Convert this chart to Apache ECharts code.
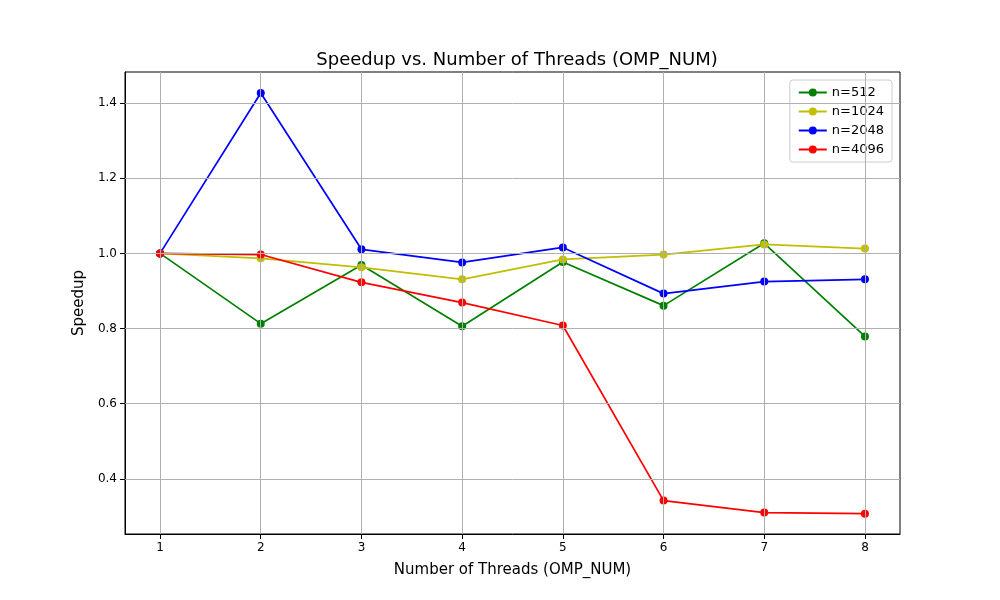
<!DOCTYPE html>
<html><head><meta charset="utf-8">
<script src="https://cdn.jsdelivr.net/npm/echarts@6/dist/echarts.min.js"></script>
<style>body{margin:0}#c{width:1000px;height:600px}</style></head>
<body><div id="c"></div>
<script>
var threads = [1, 2, 3, 4, 5, 6, 7, 8];
var n512 = [1.0, 0.813, 0.969, 0.806, 0.977, 0.861, 1.027, 0.779];
var n1024 = [1.0, 0.987, 0.963, 0.931, 0.984, 0.997, 1.024, 1.013];
var n2048 = [1.0, 1.427, 1.011, 0.976, 1.016, 0.893, 0.925, 0.931];
var n4096 = [1.0, 0.997, 0.923, 0.869, 0.808, 0.342, 0.310, 0.307];
var yTicks = [0.4, 0.6, 0.8, 1.0, 1.2, 1.4];
var names = ["n=512", "n=1024", "n=2048", "n=4096"];
var colors = ["#008000", "#bfbf00", "#0000ff", "#ff0000"];

var chart = echarts.init(document.getElementById("c"));
var gridStyle = { color: "#b0b0b0", width: 1, type: "solid" };

function mk(name, vals, i) {
  return {
    name: name, type: "line", data: threads.map(function (t, k) { return [t, vals[k]]; }),
    symbol: "circle", symbolSize: 8, color: colors[i],
    lineStyle: { width: 1.7 }, z: 3
  };
}
var series = [n512, n1024, n2048, n4096].map(function (v, i) { return mk(names[i], v, i); });
// grid lines
series.push({
  type: "line", data: [], silent: true, z: 1,
  markLine: {
    silent: true, symbol: "none", label: { show: false }, lineStyle: gridStyle, animation: false,
    data: threads.map(function (t) { return { xAxis: t }; }).concat(yTicks.map(function (y) { return { yAxis: y }; }))
  }
});

chart.setOption({
  animation: false,
  title: { text: "Speedup vs. Number of Threads (OMP_NUM)", left: 512, top: 46, textAlign: "center",
    textStyle: { fontFamily: "DejaVu Sans", fontSize: 18, fontWeight: "normal", color: "#000" } },
  legend: { data: names, orient: "vertical", right: 108, top: 80, itemWidth: 28, itemHeight: 10, itemGap: 6,
    backgroundColor: "#fff", borderColor: "#ccc", borderWidth: 1, borderRadius: 3, padding: [6, 8],
    textStyle: { fontFamily: "DejaVu Sans", fontSize: 13, color: "#000" } },
  grid: { left: 125, right: 100, top: 72, bottom: 66 },
  xAxis: {
    type: "value", min: 0.652, max: 8.348,
    name: "Number of Threads (OMP_NUM)", nameLocation: "middle", nameGap: 29,
    nameTextStyle: { fontFamily: "DejaVu Sans", fontSize: 15, color: "#000" },
    axisLine: { lineStyle: { color: "#000" } },
    axisTick: { show: true, customValues: threads, lineStyle: { color: "#000" } },
    axisLabel: { customValues: threads, color: "#000", fontFamily: "DejaVu Sans", fontSize: 12 },
    splitLine: { show: false }
  },
  yAxis: {
    type: "value", min: 0.253, max: 1.483,
    name: "Speedup", nameLocation: "middle", nameGap: 38,
    nameTextStyle: { fontFamily: "DejaVu Sans", fontSize: 15, color: "#000" },
    axisLine: { show: true, lineStyle: { color: "#000" } },
    axisTick: { show: true, customValues: yTicks, lineStyle: { color: "#000" } },
    axisLabel: { customValues: yTicks, color: "#000", fontFamily: "DejaVu Sans", fontSize: 12,
      formatter: function (v) { return v.toFixed(1); } },
    splitLine: { show: false }
  },
  series: series
});
// frame on top/right
chart.setOption({ graphic: [{ type: "rect", shape: { x: 125, y: 72, width: 775, height: 462 },
  style: { fill: null, stroke: "#000", lineWidth: 1 }, silent: true, z: 0 }] });
</script></body></html>
